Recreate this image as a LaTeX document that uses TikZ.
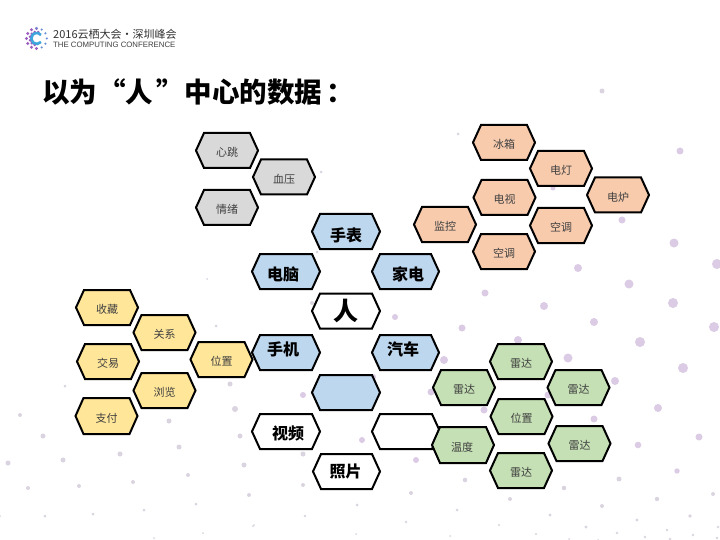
\documentclass[tikz,border=0pt]{standalone}
\usepackage{fontspec}
\setmainfont{Noto Sans CJK SC}
\newfontfamily\latinf{Liberation Sans}
\definecolor{hgray}{HTML}{D9D9D9}
\definecolor{hblue}{HTML}{BDD7EE}
\definecolor{horange}{HTML}{F8CBAD}
\definecolor{hyellow}{HTML}{FFE699}
\definecolor{hgreen}{HTML}{C5E0B4}
\definecolor{dotbig}{HTML}{DCCBE5}
\definecolor{dotsmall}{HTML}{DAD4E0}
\definecolor{smalltxt}{HTML}{404040}
\definecolor{logoa}{HTML}{9A5CC0}
\definecolor{logob}{HTML}{6A8FD8}
\definecolor{logoc}{HTML}{3FA6DC}
\tikzset{
  hexline/.style={draw=black,line width=2pt,line join=miter},
  smalllabel/.style={inner sep=0pt,text=smalltxt,font=\fontsize{11}{12}\selectfont},
  biglabel/.style={inner sep=0pt,text=black,font=\fontsize{16}{17}\selectfont\bfseries},
  hugelabel/.style={inner sep=0pt,text=black,font=\fontsize{25}{26}\selectfont\bfseries},
  titlelabel/.style={inner sep=0pt,anchor=west,text=black,font=\fontsize{27.5}{28}\selectfont\bfseries},
  logoA/.style={inner sep=0pt,anchor=west,text=black!80,font=\fontsize{11}{12}\selectfont},
  logoB/.style={inner sep=0pt,anchor=west,text=black!75,font=\latinf\fontsize{7.8}{8}\selectfont},
}
% name, cx, cy, half width, half height, fill, label style, text, text offset
\newcommand{\hexa}[9]{%
  \path[hexline,fill=#6] ({#2-#4},{#3}) -- ({#2-#4+8},{#3-#5}) -- ({#2+#4-8},{#3-#5})
     -- ({#2+#4},{#3}) -- ({#2+#4-8},{#3+#5}) -- ({#2-#4+8},{#3+#5}) -- cycle;
  \node[#7] (#1) at ([shift={#9}]#2,#3) {#8};}
\begin{document}
\begin{tikzpicture}[x=1pt,y=-1pt]
\useasboundingbox (0,0) rectangle (720,540);
\fill[white] (0,0) rectangle (720,540);
% background dots
\foreach \a/\b/\r in {640/342/5,683/368/5,568/358/4.5,615/381/4,658/408/4,594/419/3.5,699/437/3.5,638/445/3.3,677/471/2.7,680/151/3.5,553/188/2.5,622/220/3.5,674/243/4.5,717/264/5,578/268/4,629/284/4.5,485/293/3.5,544/306/4,673/303/5,462/328/3.5,518/340/4,594/322/4,714/327/5,444/360/4,431/392/3.5,548/395/3.5,484/410/3.5,395/317/3,303/395/3,373/377/3,362/440/3,416/460/3,524/424/3}
  {\fill[dotbig] (\a,\b) circle (\r);}
\foreach \a/\b/\r in {619/479/2.5,564/488/2.3,713/494/2,657/499/2.2,602/506/2,690/516/1.8,637/520/1.7,550/515/1.6,586/527/1.6,667/530/1.4,693/535/1.4,718/527/1.4,617/533/1.3,645/537/1.3,670/539/1.3,717/538/1.3,569/539/1,598/540/1,536/534/1.2,499/525/1.2,450/536/1,457/510/1.5,510/499/2,465/480/2.3,458/134/1.5,602/91/2.5,321/172/1.5,317/252/1.5,207/279/1,312/303/2,303/454/2.5,244/465/2.5,303/485/2,249/495/2,411/493/2,240/436/2.5,216/326/1.5,65/386/1.5,230/384/2.5,235/409/3,169/421/2.5,179/447/2.5,20/415/2,43/436/2.5,120/454/2.5,63/460/2.5,8/463/2.5,188/475/2,133/482/2,79/486/2,28/488/2,196/504/1.5,144/510/1.5,93/514/1.5,45/516/1.5,0/516/1,253/526/1,203/533/1,154/538/1,357/505/1.5,305/516/1.3,254/525/1,406/522/1.3,356/534/1}
  {\fill[dotsmall] (\a,\b) circle (\r);}
% logo mark
\foreach \ang in {90,120,...,270}{
  \fill[logoa] (36.5,38.5) ++(\ang:10) circle (1.6);
  \fill[logoa] (36.5,38.5) ++(\ang+15:6.5) circle (1.6);
}
\foreach \ang in {-90,-60,...,60}{
  \fill[logob] (36.5,38.5) ++(\ang:10.3) circle (1.2);
}
\draw[line width=2.6pt,logoc] (41,42) arc[start angle=40,end angle=320,radius=5.5];
\node[logoA] (logotop) at (53,34.5) {2016云栖大会·深圳峰会};
\node[logoB] (logobot) at (53,44.5) {THE COMPUTING CONFERENCE};
% title
\node[titlelabel] (title) at (42,92) {以为\kern1pt“人\kern3pt”\kern1pt中心的数据\kern4pt：};
% gray
\hexa{xt}{227}{150.5}{31}{17.5}{hgray}{smalllabel}{心跳}{(0,2)}
\hexa{xy}{284}{177}{31}{17.5}{hgray}{smalllabel}{血压}{(0,2)}
\hexa{qx}{227}{207.5}{31}{17.5}{hgray}{smalllabel}{情绪}{(0,2)}
% blue
\hexa{sb}{346}{231.5}{34}{17.5}{hblue}{biglabel}{手表}{(0,4)}
\hexa{dn}{286}{271.5}{34}{17.5}{hblue}{biglabel}{电脑}{(-3,3)}
\hexa{jd}{405.5}{271.5}{33.5}{17.5}{hblue}{biglabel}{家电}{(2.5,3)}
\hexa{ren}{346}{311}{34}{17.5}{white}{hugelabel}{人}{(0,0)}
% orange
\hexa{bx}{504}{142.5}{31}{17.5}{horange}{smalllabel}{冰箱}{(0,2)}
\hexa{dd}{561}{168.5}{31}{17.5}{horange}{smalllabel}{电灯}{(0,2)}
\hexa{dl}{618}{195}{31}{17.5}{horange}{smalllabel}{电炉}{(0,2)}
\hexa{ds}{504.5}{197.5}{31}{17.5}{horange}{smalllabel}{电视}{(0,2)}
\hexa{kta}{561}{225.5}{31}{17.5}{horange}{smalllabel}{空调}{(0,2)}
\hexa{jk}{445}{224.5}{31}{17.5}{horange}{smalllabel}{监控}{(0,2)}
\hexa{ktb}{504}{251.5}{31}{17.5}{horange}{smalllabel}{空调}{(0,2)}
% yellow
\hexa{sc}{107}{307.5}{31}{17.5}{hyellow}{smalllabel}{收藏}{(0,2)}
\hexa{gx}{164.5}{332.5}{31}{17.5}{hyellow}{smalllabel}{关系}{(0,2)}
\hexa{wza}{221.5}{359.5}{31}{17.5}{hyellow}{smalllabel}{位置}{(0,2)}
\hexa{jy}{108}{361.5}{31}{17.5}{hyellow}{smalllabel}{交易}{(0,2)}
\hexa{ll}{164.5}{390.5}{31}{17.5}{hyellow}{smalllabel}{浏览}{(0,2)}
\hexa{zf}{106.5}{416}{31}{18}{hyellow}{smalllabel}{支付}{(0,2)}
% lower blue and white
\hexa{sj}{286}{352.5}{34}{17.5}{hblue}{biglabel}{手机}{(-3,-3.5)}
\hexa{qc}{405.5}{352.5}{33.5}{17.5}{hblue}{biglabel}{汽车}{(-2.5,-3.5)}
\hexa{blank}{346}{392.5}{34}{17.5}{hblue}{biglabel}{}{(0,0)}
\hexa{sp}{286}{431.5}{34}{17.5}{white}{biglabel}{视频}{(2,1.5)}
\hexa{empty}{406}{431.5}{34}{17.5}{white}{biglabel}{}{(0,0)}
\hexa{zp}{346.5}{471.5}{33.5}{17.5}{white}{biglabel}{照片}{(-1,-0.5)}
% green
\hexa{lda}{521}{361.5}{31}{17.5}{hgreen}{smalllabel}{雷达}{(0,2)}
\hexa{ldb}{464}{387.5}{31}{17.5}{hgreen}{smalllabel}{雷达}{(0,2)}
\hexa{ldc}{578.5}{387.5}{31}{17.5}{hgreen}{smalllabel}{雷达}{(0,2)}
\hexa{wzb}{521.5}{416.5}{31}{17.5}{hgreen}{smalllabel}{位置}{(0,2)}
\hexa{wd}{463}{445}{31}{18}{hgreen}{smalllabel}{温度}{(-1,2)}
\hexa{ldd}{579.5}{443.5}{31}{17.5}{hgreen}{smalllabel}{雷达}{(0,2)}
\hexa{lde}{521}{470.5}{31}{17.5}{hgreen}{smalllabel}{雷达}{(0,2)}
\end{tikzpicture}
\end{document}
